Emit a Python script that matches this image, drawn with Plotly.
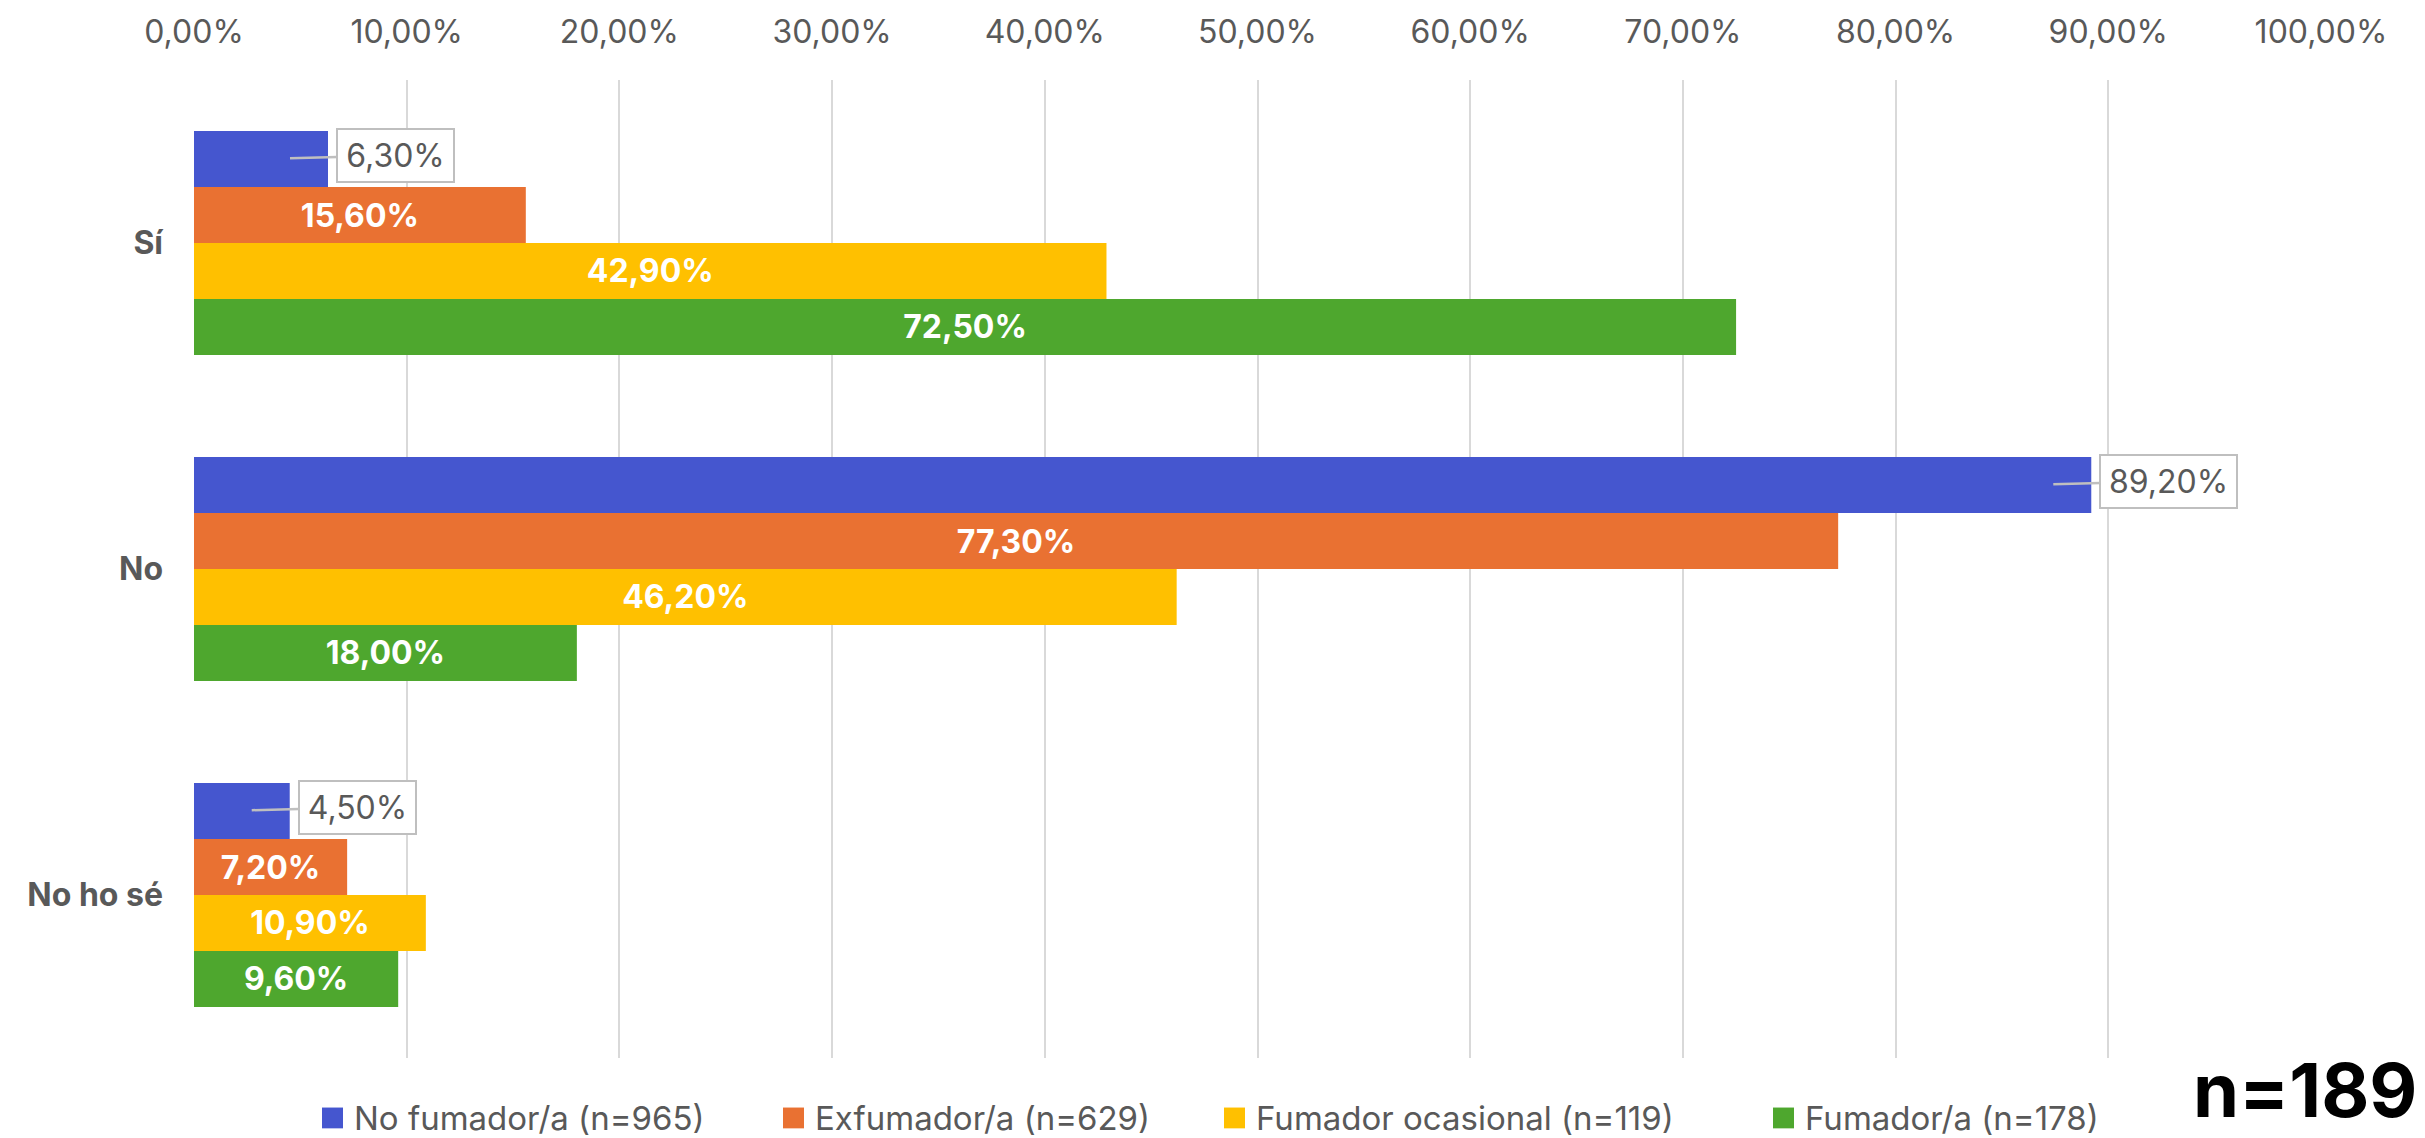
import plotly.graph_objects as go

# ---------------- data ----------------
categories = ["Sí", "No", "No ho sé"]
series_names = ["No fumador/a (n=965)", "Exfumador/a (n=629)",
                "Fumador ocasional (n=119)", "Fumador/a (n=178)"]
no_fumador = [6.3, 89.2, 4.5]
exfumador = [15.6, 77.3, 7.2]
fumador_ocasional = [42.9, 46.2, 10.9]
fumador = [72.5, 18.0, 9.6]
tick_values = [0, 10, 20, 30, 40, 50, 60, 70, 80, 90, 100]
sample_note = "n=189"

series_values = [no_fumador, exfumador, fumador_ocasional, fumador]
colors = ["#4556CF", "#E97132", "#FFC000", "#4EA72E"]

# ---------------- layout constants ----------------
W, H = 2425, 1138
ML, MR, MT, MB = 194, 104, 71, 80
PW = W - ML - MR
PH = H - MT - MB
BARGAP = 0.313
FONT = "Inter"
GRAY = "#595959"


def fmt(v):
    return f"{v:.2f}".replace(".", ",") + "%"


fig = go.Figure()
for i, (name, vals, col) in enumerate(zip(series_names, series_values, colors)):
    show_text = i > 0
    fig.add_trace(go.Bar(
        name=name, y=categories, x=vals, orientation="h",
        marker=dict(color=col, line=dict(width=0)),
        text=[fmt(v) for v in vals] if show_text else None,
        textposition="inside" if show_text else "none",
        insidetextanchor="middle",
        textangle=0,
        constraintext="none",
        textfont=dict(family=FONT, size=32, color="white", weight="bold"),
        showlegend=False,
        hoverinfo="skip",
    ))

# callouts for the first series
cat_px = PH / len(categories)
bar_px = cat_px * (1 - BARGAP) / len(series_values)
first_offset = 1.5 * bar_px
for cat, v in zip(categories, no_fumador):
    t = fmt(v)
    w = 20 * len(t) + 15
    fig.add_annotation(
        x=v, y=cat, xref="x", yref="y",
        text=t, showarrow=True, arrowhead=0, arrowwidth=2.5, arrowcolor="#BFBFBF",
        ax=46 + w / 2 + 2, ay=-3, axref="pixel", ayref="pixel",
        xshift=-38, yshift=first_offset,
        width=w, height=bar_px - 6, borderpad=0,
        bgcolor="white", bordercolor="#BFBFBF", borderwidth=2,
        font=dict(family=FONT, size=32, color=GRAY),
        align="center", valign="middle",
    )


# custom legend (large squares as in the reference)
def px_x(px):
    return (px - ML) / PW


def px_y(py):
    return (H - MB - py) / PH


legend_left = [322, 783, 1224, 1773]
sq = 21
ly = 1118.5
for name, col, lx in zip(series_names, colors, legend_left):
    fig.add_shape(type="rect", xref="paper", yref="paper",
                  x0=px_x(lx), x1=px_x(lx + sq), y0=px_y(ly + sq / 2), y1=px_y(ly - sq / 2),
                  fillcolor=col, line=dict(width=0))
    fig.add_annotation(xref="paper", yref="paper", x=px_x(lx + 30), y=px_y(ly),
                       xanchor="left", yanchor="middle", showarrow=False,
                       text=name, font=dict(family=FONT, size=33, color=GRAY))

fig.add_annotation(xref="paper", yref="paper", x=px_x(2418), y=px_y(1137),
                   xanchor="right", yanchor="bottom", showarrow=False,
                   text=sample_note, borderpad=0,
                   font=dict(family=FONT, size=74, color="black", weight="bold"))

fig.update_layout(
    width=W, height=H,
    margin=dict(l=ML, r=MR, t=MT, b=MB, pad=0),
    paper_bgcolor="white", plot_bgcolor="white",
    barmode="group", bargap=BARGAP, bargroupgap=0,
    separators=",.",
    showlegend=False,
    xaxis=dict(
        side="top", range=[0, 100], tickvals=tick_values,
        ticktext=[fmt(v) for v in tick_values],
        showgrid=True, gridcolor="#D9D9D9", gridwidth=2,
        zeroline=False, showline=False, ticks="",
        ticklabelstandoff=30,
        tickfont=dict(family=FONT, size=32, color=GRAY),
    ),
    yaxis=dict(
        autorange="reversed", showgrid=False, zeroline=False, showline=False,
        ticks="", ticklabelstandoff=30,
        tickfont=dict(family=FONT, size=32, color=GRAY, weight="bold"),
    ),
    font=dict(family=FONT, color=GRAY),
)

fig.write_html("out.html", config={"displayModeBar": False},
               post_script="document.body.style.margin='0';")
